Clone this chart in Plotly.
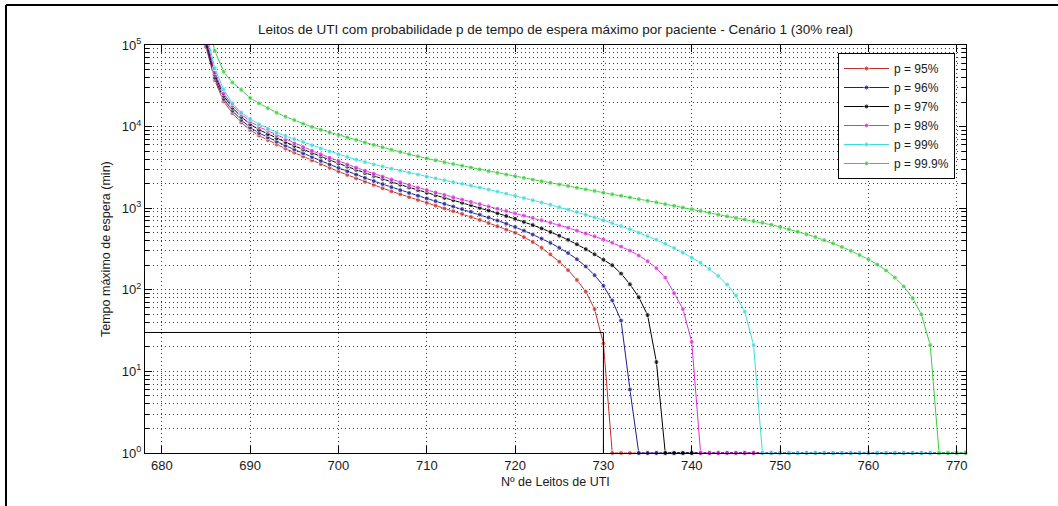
import plotly.graph_objects as go

beds = list(range(685, 772))

red = [95500, 37150, 20420, 14590, 11220, 9080, 7760, 6840, 6030, 5370,
       4800, 4300, 3850, 3470, 3130, 2820, 2560, 2320, 2110, 1930,
       1760, 1610, 1480, 1365, 1260, 1165, 1075, 995, 920, 850,
       780, 718, 658, 600, 545, 501, 442, 385, 327, 272,
       221, 174, 132, 95, 58, 22,
       1, 1, 1, 1, 1, 1, 1, 1, 1, 1,
       1, 1, 1, 1, 1, 1, 1, 1, 1, 1,
       1, 1, 1, 1, 1, 1, 1, 1, 1, 1,
       1, 1, 1, 1, 1, 1, 1, 1, 1, 1, 1]

blue = [102000, 39800, 21930, 15670, 12080, 9770, 8360, 7380, 6550, 5850,
        5240, 4700, 4230, 3810, 3440, 3120, 2830, 2580, 2350, 2150,
        1970, 1810, 1660, 1535, 1420, 1315, 1220, 1130, 1050, 977,
        906, 836, 769, 706, 646, 589, 531, 475, 424, 376,
        327, 282, 237, 193, 151, 112, 74, 42, 6,
        1, 1, 1, 1, 1, 1, 1, 1, 1, 1,
        1, 1, 1, 1, 1, 1, 1, 1, 1, 1,
        1, 1, 1, 1, 1, 1, 1, 1, 1, 1,
        1, 1, 1, 1, 1, 1, 1, 1]

black = [112000, 43450, 23880, 17060, 13180, 10720, 9160, 8090, 7210, 6460,
         5810, 5240, 4730, 4290, 3890, 3540, 3230, 2950, 2700, 2480,
         2290, 2100, 1940, 1795, 1665, 1545, 1440, 1340, 1250, 1165,
         1090, 1010, 938, 867, 802, 741, 679, 621, 565, 512,
         460, 410, 361, 315, 272, 234, 200, 158, 117, 81,
         49, 13,
         1, 1, 1, 1, 1, 1, 1, 1, 1, 1,
         1, 1, 1, 1, 1, 1, 1, 1, 1, 1,
         1, 1, 1, 1, 1, 1, 1, 1, 1, 1,
         1, 1, 1, 1, 1]

magenta = [126000, 46000, 25500, 18300, 14200, 11600, 9950, 8870, 7850, 7000,
           6270, 5620, 5070, 4580, 4150, 3776, 3440, 3150, 2880, 2650,
           2440, 2250, 2080, 1930, 1790, 1667, 1556, 1455, 1361, 1276,
           1197, 1122, 1052, 986, 925, 865, 813, 762, 713, 665,
           619, 575, 532, 490, 452, 414, 377, 339, 302, 263,
           224, 184, 141, 91, 58, 23,
           1, 1, 1, 1, 1, 1, 1, 1, 1, 1,
           1, 1, 1, 1, 1, 1, 1, 1, 1, 1,
           1, 1, 1, 1, 1, 1, 1, 1, 1, 1, 1]

cyan = [148000, 52000, 28500, 19300, 14900, 12400, 10700, 9440, 8470, 7670,
        7030, 6460, 5890, 5400, 4950, 4570, 4240, 3940, 3670, 3440,
        3240, 3050, 2880, 2720, 2580, 2440, 2320, 2200, 2090, 1990,
        1890, 1790, 1690, 1596, 1507, 1419, 1334, 1253, 1175, 1102,
        1030, 962, 895, 832, 771, 713, 658, 605, 552, 501,
        455, 412, 367, 325, 285, 248, 214, 180, 148, 116,
        85, 54, 21,
        1, 1, 1, 1, 1, 1, 1, 1, 1, 1,
        1, 1, 1, 1, 1, 1, 1, 1, 1, 1,
        1, 1, 1, 1]

green = [251000, 85100, 47100, 34700, 28200, 22400, 19300, 16800, 14800, 13240,
         12020, 10860, 9910, 9160, 8490, 7890, 7350, 6850, 6400, 5970,
         5570, 5210, 4880, 4580, 4320, 4070, 3860, 3660, 3480, 3310,
         3150, 2990, 2840, 2710, 2580, 2460, 2350, 2240, 2140, 2050,
         1950, 1870, 1780, 1700, 1630, 1550, 1480, 1420, 1350, 1290,
         1230, 1180, 1120, 1070, 1020, 973, 925, 879, 836, 794,
         759, 728, 697, 664, 627, 589, 552, 515, 479, 443,
         406, 371, 335, 300, 267, 236, 204, 173, 141, 110,
         79, 50, 21,
         1, 1, 1, 1]

series_names = ["p = 95%", "p = 96%", "p = 97%", "p = 98%", "p = 99%", "p = 99.9%"]
series_values = [red, blue, black, magenta, cyan, green]
series_colors = ["#c0302c", "#1c1c8c", "#000000", "#d633d6", "#3cdcdc", "#3ccc3c"]

ref_x = [678.1, 730, 730]
ref_y = [30, 30, 1]

x_ticks = [680, 690, 700, 710, 720, 730, 740, 750, 760, 770]
y_ticks = [1, 10, 100, 1000, 10000, 100000]
y_ticktext = ["10<sup>0</sup>", "10<sup>1</sup>", "10<sup>2</sup>",
              "10<sup>3</sup>", "10<sup>4</sup>", "10<sup>5</sup>"]
y_minor = [m * d for d in [1, 10, 100, 1000, 10000] for m in range(2, 10)]

YMAX = 100000

fig = go.Figure()
for name, vals, col in zip(series_names, series_values, series_colors):
    sizes = [5 if v <= YMAX * 1.02 else 0 for v in vals]
    fig.add_trace(go.Scatter(
        x=beds, y=vals, name=name, mode="lines+markers",
        line=dict(color=col, width=1),
        marker=dict(color=col, size=sizes, symbol="circle"),
        cliponaxis=False,
    ))

fig.add_trace(go.Scatter(
    x=ref_x, y=ref_y, mode="lines", line=dict(color="#000000", width=1),
    showlegend=False, hoverinfo="skip",
))

font_family = "Liberation Sans, Arial, Helvetica, sans-serif"
grid_dash = "1px,3px"
grid_col = "#3a3a3a"

fig.update_layout(
    width=1058, height=506,
    margin=dict(l=145, r=92, t=45, b=53),
    paper_bgcolor="white", plot_bgcolor="white",
    font=dict(family=font_family, size=13, color="#1a1a1a"),
    title=dict(
        text="Leitos de UTI com probabilidade p de tempo de espera máximo por paciente - Cenário 1 (30% real)",
        x=0.5, xref="paper", xanchor="center",
        y=1 - 29 / 506, yref="container", yanchor="middle",
        font=dict(size=13.5, color="#1a1a1a"),
    ),
    xaxis=dict(
        range=[678.1, 771.05],
        tickmode="array", tickvals=x_ticks,
        ticks="inside", ticklen=7, tickcolor="#000000",
        showline=True, linecolor="#000000", linewidth=1, mirror="allticks",
        showgrid=True, gridcolor=grid_col, griddash=grid_dash, gridwidth=1,
        zeroline=False, tickfont=dict(size=13),
    ),
    yaxis=dict(
        type="log", range=[0, 5],
        tickmode="array", tickvals=y_ticks, ticktext=y_ticktext,
        ticks="inside", ticklen=7, tickcolor="#000000",
        showline=True, linecolor="#000000", linewidth=1, mirror="allticks",
        showgrid=True, gridcolor=grid_col, griddash=grid_dash, gridwidth=1,
        zeroline=False, tickfont=dict(size=13),
        minor=dict(tickmode="array", tickvals=y_minor, ticks="inside", ticklen=4,
                   tickcolor="#000000", showgrid=True, gridcolor=grid_col,
                   griddash=grid_dash, gridwidth=1),
    ),
    legend=dict(
        x=(838 - 145) / 821, y=(453 - 53) / 408, xanchor="left", yanchor="top",
        bgcolor="white", bordercolor="#000000", borderwidth=1,
        font=dict(size=12, color="#1a1a1a"),
        tracegroupgap=0, itemwidth=45,
    ),
    annotations=[
        dict(text="Nº de Leitos de UTI", xref="paper", yref="paper",
             x=0.5, y=(453 - 482) / 408, xanchor="center", yanchor="middle",
             showarrow=False, font=dict(size=12.5, color="#1a1a1a")),
        dict(text="Tempo máximo de espera (min)", xref="paper", yref="paper",
             x=(106 - 145) / 821, y=0.5, xanchor="center", yanchor="middle",
             textangle=-90, showarrow=False, font=dict(size=12.5, color="#1a1a1a")),
    ],
    shapes=[
        dict(type="line", xref="paper", yref="paper",
             x0=(6 - 145) / 821, x1=(1058 - 145) / 821,
             y0=(453 - 5) / 408, y1=(453 - 5) / 408,
             line=dict(color="#000000", width=2)),
        dict(type="line", xref="paper", yref="paper",
             x0=(6 - 145) / 821, x1=(6 - 145) / 821,
             y0=(453 - 5) / 408, y1=(453 - 506) / 408,
             line=dict(color="#000000", width=2)),
    ],
)

fig.write_html("out.html")
